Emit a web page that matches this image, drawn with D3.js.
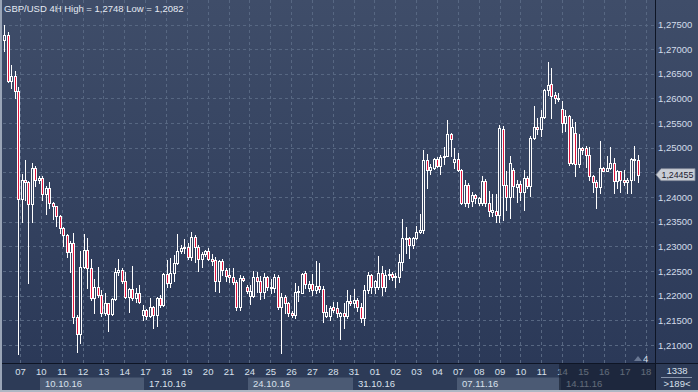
<!DOCTYPE html>
<html><head><meta charset="utf-8">
<script src="https://d3js.org/d3.v7.min.js"></script>
<style>html,body{margin:0;padding:0;background:#2d3b57;overflow:hidden}svg{display:block}</style>
</head><body>
<svg id="c" width="698" height="392"></svg>
<script>
// ---- DATA (GBP/USD 4H) ----
const open = [1.2718,1.2728,1.2635,1.2645,1.2616,1.2396,1.2434,1.2430,1.2386,1.2459,1.2435,1.2439,1.2406,1.2418,1.2389,1.2381,1.2362,1.2338,1.2323,1.2288,
1.2306,1.2156,1.2122,1.2259,1.2293,1.2256,1.2195,1.2218,1.2202,1.2164,1.2185,1.2162,1.2193,1.2248,1.2252,1.2230,1.2197,1.2213,1.2195,1.2205,
1.2160,1.2171,1.2159,1.2177,1.2160,1.2195,1.2181,1.2244,1.2225,1.2246,1.2266,1.2291,1.2296,1.2298,1.2278,1.2319,1.2298,1.2274,1.2285,1.2290,
1.2274,1.2272,1.2229,1.2271,1.2252,1.2242,1.2237,1.2227,1.2178,1.2235,1.2218,1.2200,1.2200,1.2237,1.2229,1.2208,1.2237,1.2217,1.2215,1.2237,
1.2178,1.2198,1.2186,1.2164,1.2161,1.2208,1.2206,1.2246,1.2215,1.2223,1.2212,1.2220,1.2213,1.2159,1.2159,1.2178,1.2176,1.2159,1.2164,1.2159,
1.2189,1.2185,1.2191,1.2178,1.2154,1.2212,1.2242,1.2218,1.2218,1.2246,1.2218,1.2242,1.2245,1.2237,1.2237,1.2269,1.2317,1.2317,1.2303,1.2317,
1.2330,1.2334,1.2476,1.2455,1.2458,1.2477,1.2464,1.2481,1.2484,1.2528,1.2472,1.2478,1.2455,1.2388,1.2425,1.2393,1.2405,1.2388,1.2388,1.2433,
1.2389,1.2369,1.2372,1.2364,1.2538,1.2424,1.2401,1.2455,1.2421,1.2427,1.2411,1.2439,1.2422,1.2520,1.2543,1.2538,1.2562,1.2617,1.2630,1.2608,
1.2601,1.2579,1.2550,1.2565,1.2470,1.2530,1.2467,1.2499,1.2499,1.2486,1.2443,1.2431,1.2420,1.2459,1.2453,1.2459,1.2469,1.2432,1.2452,1.2435,
1.2430,1.2435,1.2477,1.2476];
const high = [1.2748,1.2734,1.2667,1.2655,1.2623,1.2447,1.2476,1.2432,1.2469,1.2464,1.2442,1.2442,1.2422,1.2430,1.2391,1.2382,1.2363,1.2340,1.2325,1.2310,
1.2327,1.2161,1.2290,1.2325,1.2317,1.2274,1.2233,1.2258,1.2212,1.2205,1.2186,1.2195,1.2256,1.2274,1.2256,1.2249,1.2215,1.2260,1.2215,1.2222,
1.2181,1.2172,1.2196,1.2179,1.2198,1.2202,1.2246,1.2273,1.2276,1.2283,1.2325,1.2303,1.2315,1.2306,1.2330,1.2324,1.2303,1.2288,1.2293,1.2296,
1.2285,1.2278,1.2273,1.2274,1.2256,1.2256,1.2256,1.2232,1.2242,1.2239,1.2222,1.2222,1.2251,1.2249,1.2239,1.2247,1.2239,1.2233,1.2244,1.2242,
1.2206,1.2202,1.2188,1.2168,1.2225,1.2219,1.2247,1.2250,1.2230,1.2243,1.2271,1.2267,1.2220,1.2181,1.2179,1.2188,1.2188,1.2166,1.2185,1.2212,
1.2202,1.2213,1.2196,1.2185,1.2222,1.2248,1.2245,1.2232,1.2281,1.2261,1.2252,1.2254,1.2249,1.2246,1.2285,1.2355,1.2339,1.2320,1.2320,1.2342,
1.2366,1.2496,1.2488,1.2468,1.2479,1.2482,1.2486,1.2501,1.2557,1.2530,1.2499,1.2489,1.2457,1.2434,1.2428,1.2411,1.2407,1.2401,1.2442,1.2436,
1.2413,1.2407,1.2407,1.2547,1.2544,1.2453,1.2484,1.2459,1.2435,1.2432,1.2455,1.2442,1.2523,1.2585,1.2560,1.2577,1.2619,1.2674,1.2662,1.2613,
1.2611,1.2594,1.2576,1.2567,1.2558,1.2552,1.2527,1.2501,1.2503,1.2501,1.2445,1.2434,1.2514,1.2462,1.2483,1.2501,1.2479,1.2455,1.2453,1.2455,
1.2438,1.2479,1.2504,1.2486];
const low = [1.2696,1.2633,1.2621,1.2601,1.2082,1.2349,1.2394,1.2225,1.2349,1.2422,1.2428,1.2394,1.2365,1.2378,1.2355,1.2342,1.2327,1.2300,1.2278,1.2248,
1.2145,1.2086,1.2105,1.2256,1.2215,1.2191,1.2164,1.2198,1.2158,1.2161,1.2129,1.2161,1.2191,1.2242,1.2225,1.2195,1.2166,1.2191,1.2188,1.2185,
1.2151,1.2153,1.2156,1.2134,1.2139,1.2177,1.2180,1.2218,1.2218,1.2229,1.2265,1.2286,1.2286,1.2274,1.2273,1.2269,1.2251,1.2258,1.2281,1.2273,
1.2262,1.2210,1.2208,1.2242,1.2229,1.2227,1.2224,1.2170,1.2170,1.2229,1.2205,1.2183,1.2198,1.2208,1.2193,1.2195,1.2212,1.2206,1.2208,1.2172,
1.2084,1.2164,1.2159,1.2156,1.2154,1.2190,1.2205,1.2215,1.2210,1.2202,1.2205,1.2208,1.2147,1.2156,1.2151,1.2166,1.2156,1.2112,1.2134,1.2154,
1.2181,1.2178,1.2168,1.2147,1.2141,1.2206,1.2206,1.2205,1.2213,1.2202,1.2210,1.2233,1.2232,1.2218,1.2227,1.2252,1.2286,1.2276,1.2296,1.2315,
1.2328,1.2328,1.2418,1.2446,1.2456,1.2462,1.2447,1.2467,1.2483,1.2484,1.2459,1.2452,1.2386,1.2381,1.2380,1.2381,1.2388,1.2384,1.2384,1.2381,
1.2361,1.2362,1.2350,1.2350,1.2354,1.2374,1.2357,1.2401,1.2391,1.2394,1.2374,1.2418,1.2403,1.2518,1.2527,1.2524,1.2560,1.2608,1.2560,1.2590,
1.2594,1.2531,1.2533,1.2465,1.2468,1.2442,1.2462,1.2487,1.2462,1.2435,1.2411,1.2378,1.2408,1.2452,1.2452,1.2457,1.2408,1.2418,1.2411,1.2425,
1.2408,1.2408,1.2435,1.2430];
const close = [1.2728,1.2635,1.2645,1.2616,1.2396,1.2434,1.2430,1.2386,1.2459,1.2435,1.2439,1.2406,1.2418,1.2389,1.2381,1.2362,1.2338,1.2323,1.2288,1.2306,
1.2156,1.2122,1.2259,1.2293,1.2256,1.2195,1.2218,1.2202,1.2164,1.2185,1.2162,1.2193,1.2248,1.2252,1.2230,1.2197,1.2213,1.2195,1.2205,1.2187,
1.2171,1.2159,1.2177,1.2160,1.2196,1.2181,1.2244,1.2225,1.2246,1.2266,1.2291,1.2296,1.2298,1.2278,1.2319,1.2298,1.2274,1.2285,1.2290,1.2274,
1.2271,1.2229,1.2271,1.2252,1.2240,1.2237,1.2227,1.2178,1.2235,1.2231,1.2210,1.2210,1.2237,1.2229,1.2208,1.2237,1.2217,1.2215,1.2237,1.2178,
1.2198,1.2186,1.2164,1.2161,1.2208,1.2210,1.2244,1.2223,1.2223,1.2212,1.2220,1.2213,1.2166,1.2166,1.2176,1.2170,1.2164,1.2164,1.2158,1.2189,
1.2185,1.2191,1.2178,1.2154,1.2212,1.2242,1.2218,1.2229,1.2246,1.2218,1.2242,1.2245,1.2237,1.2240,1.2269,1.2317,1.2318,1.2303,1.2317,1.2330,
1.2334,1.2476,1.2455,1.2460,1.2477,1.2464,1.2481,1.2484,1.2528,1.2518,1.2478,1.2454,1.2388,1.2425,1.2388,1.2405,1.2398,1.2398,1.2433,1.2389,
1.2371,1.2373,1.2364,1.2540,1.2424,1.2401,1.2469,1.2422,1.2427,1.2411,1.2439,1.2422,1.2520,1.2543,1.2538,1.2562,1.2617,1.2628,1.2604,1.2601,
1.2599,1.2550,1.2565,1.2470,1.2543,1.2467,1.2499,1.2495,1.2486,1.2442,1.2430,1.2420,1.2459,1.2453,1.2459,1.2469,1.2432,1.2452,1.2435,1.2430,
1.2435,1.2477,1.2478,1.24455];
const days = ["07","10","11","12","13","14","17","18","19","20","21","24","25","26","27","28","31","01","02","03","04","07","08","09","10","11","14","15","16","17","18"];
const weekLabels = ["10.10.16","17.10.16","24.10.16","31.10.16","07.11.16","14.11.16"];
const weekStartDay = [1,6,11,16,21,26];
const priceTicks = [1.210,1.215,1.220,1.225,1.230,1.235,1.240,1.245,1.250,1.255,1.260,1.265,1.270,1.275];
const titleText = "GBP/USD 4H High = 1,2748 Low = 1,2082";
const lastPrice = 1.24455;

// ---- LAYOUT ----
const W = 698, H = 392, plotL = 3, plotR = 655, plotB = 363;
const FONT = "'Liberation Sans', Arial, sans-serif";
const svg = d3.select("#c");
const defs = svg.append("defs");
const g1 = defs.append("linearGradient").attr("id","bg").attr("gradientUnits","userSpaceOnUse")
  .attr("x1",0).attr("y1",0).attr("x2",0).attr("y2",plotB);
g1.append("stop").attr("offset","0").attr("stop-color","#3f4d69");
g1.append("stop").attr("offset","1").attr("stop-color","#2b3958");

const n = close.length;
const x = d3.scaleLinear().domain([0, n-1]).range([4.7, 638.3]);
const y = d3.scaleLinear().domain([1.21, 1.275]).range([345, 24.5]);
const dayX = d3.scalePoint().domain(d3.range(days.length)).range([20, 645.5]);
const fmt = d => d3.format(".5f")(d).replace(".", ",");

// backgrounds
svg.append("rect").attr("x",0).attr("y",0).attr("width",W).attr("height",plotB).attr("fill","url(#bg)");
svg.append("rect").attr("x",0).attr("y",plotB).attr("width",W).attr("height",H-plotB).attr("fill","#2d3b57");

// grid
const grid = svg.append("g").attr("stroke","#576782").attr("stroke-width",1).attr("stroke-dasharray","3,3");
priceTicks.forEach(p => {
  const yy = Math.round(y(p)) + 0.5;
  grid.append("line").attr("x1",plotL).attr("x2",plotR).attr("y1",yy).attr("y2",yy);
});
d3.range(days.length).forEach(i => {
  const xx = Math.round(dayX(i)) + 0.5;
  grid.append("line").attr("x1",xx).attr("x2",xx).attr("y1",0).attr("y2",plotB);
});

// candles
const cg = svg.append("g");
for (let i = 0; i < n; i++) {
  const c = Math.floor(x(i));
  const yh = Math.round(y(high[i])), yl = Math.round(y(low[i]));
  cg.append("line").attr("x1",c+0.5).attr("x2",c+0.5).attr("y1",yh).attr("y2",yl+1)
    .attr("stroke","#ffffff").attr("stroke-width",1);
  const top = Math.round(y(Math.max(open[i],close[i]))), bot = Math.round(y(Math.min(open[i],close[i])));
  const bear = close[i] < open[i];
  cg.append("rect").attr("x",c-0.5).attr("y",top+0.5).attr("width",2).attr("height",Math.max(bot-top,1))
    .attr("fill", bear ? "#e3163e" : "url(#bg)").attr("stroke","#ffffff").attr("stroke-width",1);
}

// frame lines
svg.append("line").attr("x1",0).attr("x2",W).attr("y1",plotB+0.5).attr("y2",plotB+0.5).attr("stroke","#0e1525");
svg.append("line").attr("x1",plotR+0.5).attr("x2",plotR+0.5).attr("y1",0).attr("y2",H).attr("stroke","#0e1525");
svg.append("rect").attr("x",0).attr("y",0).attr("width",2).attr("height",H).attr("fill","#9aa5b7");
svg.append("rect").attr("x",0).attr("y",H-2).attr("width",W).attr("height",2).attr("fill","#aeb6c3");

// right price axis (label hidden under the last-price tag is not drawn, as in the reference)
const ty = y(lastPrice);
const shownTicks = priceTicks.filter(p => Math.abs(y(p) - ty) > 10);
const yAxis = d3.axisRight(y).tickValues(shownTicks).tickSize(0).tickPadding(3).tickFormat(fmt);
const ya = svg.append("g").attr("transform",`translate(${plotR},0)`).call(yAxis);
ya.select(".domain").remove();
ya.selectAll("text").attr("fill","#d3dcea").attr("font-family",FONT).attr("font-size","9.5px");

// week boxes
weekStartDay.forEach((d, k) => {
  const x0 = Math.round(dayX(d)) - 1;
  const x1 = k < weekStartDay.length-1 ? Math.round(dayX(weekStartDay[k+1])) - 1 : plotR;
  if (k % 2 === 0) svg.append("rect").attr("x",x0).attr("y",377.5).attr("width",x1-x0).attr("height",12.5).attr("fill","#4b5a74");
  svg.append("text").attr("x",x0+5).attr("y",386.5).text(weekLabels[k])
    .attr("fill","#d8e0ec").attr("font-family",FONT).attr("font-size","9.5px");
});

// day axis
const xAxis = d3.axisBottom(dayX).tickSize(0).tickPadding(4).tickFormat(i => days[i]);
const xa = svg.append("g").attr("transform",`translate(0,${plotB+1})`).call(xAxis);
xa.select(".domain").remove();
xa.selectAll("text").attr("fill","#d8e0ec").attr("font-family",FONT).attr("font-size","9.5px");

// dim overlay on last week
const ox = Math.round(dayX(26)) - 3;
svg.append("rect").attr("x",ox).attr("y",plotB+1).attr("width",plotR-ox).attr("height",H-plotB-3).attr("fill","rgba(18,26,44,0.6)");

// bottom right counters
svg.append("text").attr("x",677).attr("y",374).attr("text-anchor","middle").text("1338")
  .attr("fill","#d8e0ec").attr("font-family",FONT).attr("font-size","9.5px");
svg.append("line").attr("x1",661).attr("x2",692).attr("y1",377.5).attr("y2",377.5).attr("stroke","#8794aa");
svg.append("text").attr("x",677).attr("y",386.5).attr("text-anchor","middle").text(">189<")
  .attr("fill","#d8e0ec").attr("font-family",FONT).attr("font-size","9.5px");

// small marker "4"
svg.append("path").attr("d","M634,361 L638,356 L642,361 Z").attr("fill","#6a7893");
svg.append("text").attr("x",643).attr("y",361.5).text("4")
  .attr("fill","#d8e0ec").attr("font-family",FONT).attr("font-size","9.5px");

// last price tag
svg.append("path").attr("d",`M656,${ty} L661,${ty-6} L695,${ty-6} L695,${ty+6} L661,${ty+6} Z`)
  .attr("fill","#c9cdd5").attr("stroke","#808898").attr("stroke-width",0.8);
svg.append("text").attr("x",661.5).attr("y",ty).attr("dy","0.35em").text(fmt(lastPrice))
  .attr("fill","#1b2030").attr("font-family",FONT).attr("font-size","8.8px");

// title
svg.append("text").attr("x",4).attr("y",12).text(titleText)
  .attr("fill","#e4e9f2").attr("font-family",FONT).attr("font-size","9.5px");
svg.append("line").attr("x1",57.5).attr("x2",57.5).attr("y1",4).attr("y2",13).attr("stroke","#7f8ba0").attr("stroke-width",0.7);
</script>
</body></html>
